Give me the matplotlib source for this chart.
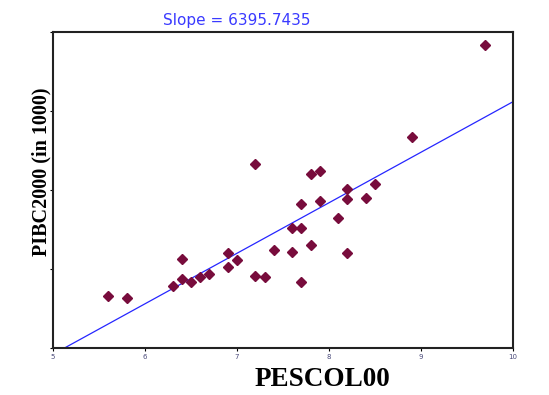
import numpy as np
import matplotlib
matplotlib.use("Agg")
import matplotlib.pyplot as plt

# schooling years (x) vs GDP per capita (y)
pescol00 = [5.6, 5.8, 6.3, 6.4, 6.4, 6.5, 6.6, 6.7, 6.9, 7.0, 6.9,
            7.2, 7.2, 7.3, 7.4, 7.6, 7.6, 7.7, 7.7, 7.7, 7.8, 7.8,
            7.9, 7.9, 8.1, 8.2, 8.2, 8.2, 8.4, 8.5, 8.9, 9.7]
pibc2000 = [6620, 6370, 7890, 11300, 8730, 8320, 8950, 9370, 11990, 11140, 10290,
            23330, 9150, 8950, 12400, 12190, 15190, 15190, 18230, 8320, 13040, 22030,
            22440, 18650, 16460, 20130, 18820, 11990, 19030, 20720, 26750, 38350]

slope = 6395.7435
intercept = -32780

x_ticks = [5, 6, 7, 8, 9, 10]
y_ticks = [0, 10000, 20000, 30000, 40000]

fig = plt.figure(figsize=(5.49, 3.95), dpi=100)
ax = fig.add_axes([0.0965, 0.119, 0.838, 0.800])

line_x = np.array([5.0, 10.0])
ax.plot(line_x, slope * line_x + intercept, color="#2626ff", lw=0.9, zorder=2)
ax.plot(pescol00, pibc2000, linestyle="none", marker="D", markersize=5.3,
        color="#780c3c", zorder=3)

ax.set_xlim(5, 10)
ax.set_ylim(0, 40000)
ax.set_xticks(x_ticks)
ax.set_xticklabels([str(t) for t in x_ticks], fontsize=5, color="#4a4a7a")
ax.set_yticks(y_ticks)
ax.set_yticklabels([])
ax.tick_params(axis="both", direction="out", length=2.5, width=0.8, pad=1.5)

for side in ax.spines.values():
    side.set_linewidth(1.5)
    side.set_color("#222222")

fig.text(0.431, 0.949, "Slope = 6395.7435", color="#3a3aff", fontsize=11,
         ha="center", va="center")
fig.text(0.587, 0.038, "PESCOL00", family="Liberation Serif", fontweight="bold",
         fontsize=19.5, ha="center", va="center")
fig.text(0.0747, 0.566, "PIBC2000 (in 1000)", family="Liberation Serif",
         fontweight="bold", fontsize=14.5, rotation=90, ha="center", va="center")

fig.savefig("out.png", dpi=100)
